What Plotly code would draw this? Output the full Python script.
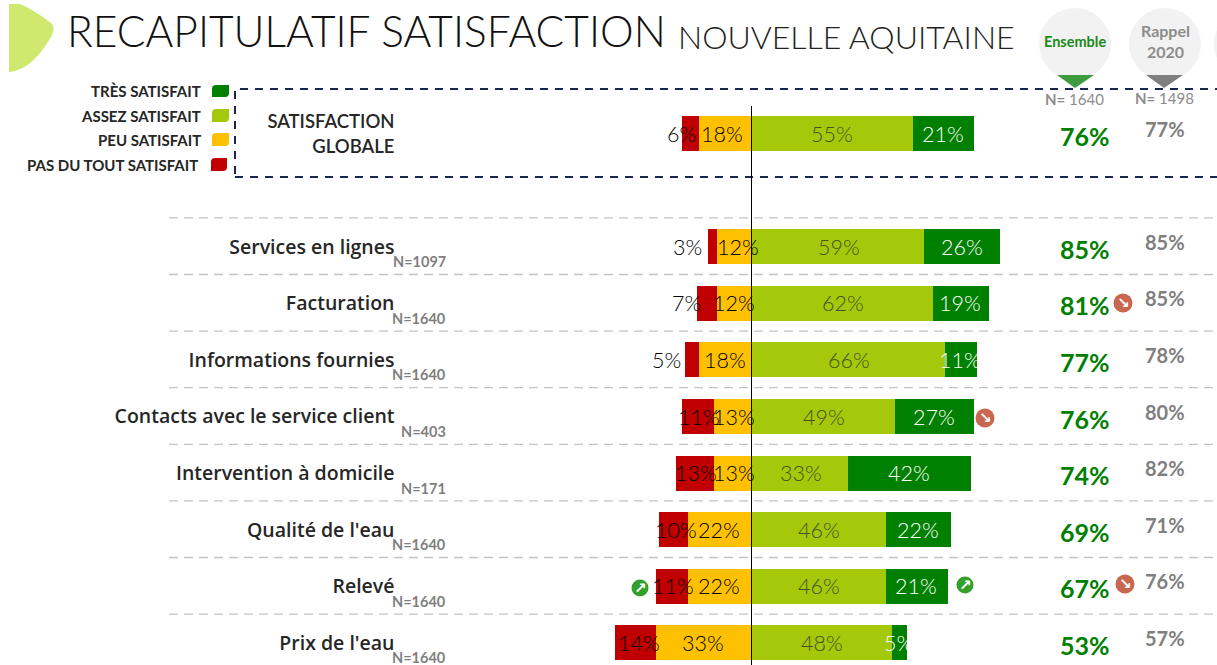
import plotly.graph_objects as go

W, H = 1217, 665
FONT = "Lato"
CAT_FONT = "Open Sans"
DARK = "#262626"

categories = ["SATISFACTION<br>GLOBALE", " ", "Services en lignes", "Facturation", "Informations fournies",
              "Contacts avec le service client", "Intervention à domicile", "Qualité de l'eau", "Relevé", "Prix de l'eau"]
rows = [c for c in categories if c != " "]
pas_du_tout = [6, 3, 7, 5, 11, 13, 10, 11, 14]
peu = [18, 12, 12, 18, 13, 13, 22, 22, 33]
assez = [55, 59, 62, 66, 49, 33, 46, 46, 48]
tres = [21, 26, 19, 11, 27, 42, 22, 21, 5]
ensemble = [76, 85, 81, 77, 76, 74, 69, 67, 53]
rappel = [77, 85, 85, 78, 80, 82, 71, 76, 57]
bases = [None, "N=1097", "N=1640", "N=1640", "N=403", "N=171", "N=1640", "N=1640", "N=1640"]
legend_names = ["TRÈS SATISFAIT", "ASSEZ SATISFAIT", "PEU SATISFAIT", "PAS DU TOUT SATISFAIT"]
COL = {"tres": "#008000", "assez": "#a3c90a", "peu": "#ffc000", "pas": "#c00000"}

# small horizontal nudges of the value labels, as in the original
shift_pas = [-9, -25, -20, -25, 2, 1, 3, 2, 4]
shift_peu = [-3, 4, 0, 0, 1, 1, 0, 0, 0]
shift_assez = [0, 1, 1, 1, 1, 1, 0, 0, 0]
shift_tres = [0, 0, 0, 0, 0, 0, 0, 0, 0]

PX_PER_PCT = 2.92
ZERO_PX = 751.5
LEFT_PX = 395.5
ROW_PX = 56.6
TOP_ROW_PX = 133.5


def px(x):
    return x / W


def py(y):
    return 1 - y / H


fig = go.Figure()
for name, vals, col, sign in [("Peu satisfait", peu, COL["peu"], -1), ("Pas du tout satisfait", pas_du_tout, COL["pas"], -1),
                              ("Assez satisfait", assez, COL["assez"], 1), ("Très satisfait", tres, COL["tres"], 1)]:
    fig.add_trace(go.Bar(name=name, y=rows, x=[sign * v for v in vals], orientation="h", width=0.62,
                         marker=dict(color=col, line=dict(width=0)), showlegend=False, hoverinfo="skip"))

ann = []


def label(x, y, text, size, color, shift=0, yshift=0, weight=300):
    ann.append(dict(x=x, y=y, xref="x", yref="y", text=text, showarrow=False, xshift=shift, yshift=yshift,
                    font=dict(family=FONT, size=size, color=color, weight=weight), xanchor="center", yanchor="middle"))


def free(x, y, text, size, color, anchor="center", weight=400, family=FONT):
    ann.append(dict(x=px(x), y=py(y), xref="paper", yref="paper", text=text, showarrow=False, xanchor=anchor,
                    yanchor="middle", font=dict(family=family, size=size, color=color, weight=weight)))


for i, r in enumerate(rows):
    label(-(peu[i] + pas_du_tout[i] / 2), r, f"{pas_du_tout[i]}%", 21.5, "#000000", shift_pas[i])
    label(-peu[i] / 2, r, f"{peu[i]}%", 21.5, "#000000", shift_peu[i])
    label(assez[i] / 2, r, f"{assez[i]}%", 21.5, "#46521f", shift_assez[i])
    label(assez[i] + tres[i] / 2, r, f"{tres[i]}%", 21.5, "#ffffff", shift_tres[i])
    ann.append(dict(x=px(1085), y=r, xref="paper", yref="y", text=f"{ensemble[i]}%", showarrow=False, yshift=-2,
                    xanchor="center", font=dict(family=FONT, size=25, color="#008000", weight=700)))
    ann.append(dict(x=px(1165), y=r, xref="paper", yref="y", text=f"{rappel[i]}%", showarrow=False, yshift=5,
                    xanchor="center", font=dict(family=FONT, size=20, color="#7f7f7f", weight=700)))
    if bases[i]:
        ann.append(dict(x=px(448), y=r, xref="paper", yref="y", text=bases[i], showarrow=False, xanchor="right",
                        yshift=-15, font=dict(family=FONT, size=14.5, color="#7f7f7f", weight=700)))

free(65, 31, "RECAPITULATIF SATISFACTION", 42.5, "#111111", "left", 300)
free(676, 36, "NOUVELLE AQUITAINE", 32, "#222222", "left", 300)
free(1075, 42, "Ensemble", 14.5, "#1a8a1a", weight=700)
free(1165, 41, "Rappel<br>2020", 16, "#8c8c8c", weight=700)
free(1074, 99, "<b>N=</b> 1640", 15, "#8c8c8c")
free(1164.5, 98, "<b>N=</b> 1498", 15, "#8c8c8c")

for n, y, x in zip(legend_names, [91, 116, 140, 165], [203, 203, 203, 200]):
    free(x, y, n, 15, DARK, "right", 700)

shapes = []


def paper_shape(**k):
    shapes.append(dict(xref="paper", yref="paper", **k))


def circle(cx, cy, r, color):
    paper_shape(type="circle", x0=px(cx - r), x1=px(cx + r), y0=py(cy + r), y1=py(cy - r), fillcolor=color,
                line=dict(width=0), layer="below")


def path(points, color, close=True):
    d = "M " + " L ".join(f"{px(a)},{py(b)}" for a, b in points) + (" Z" if close else "")
    paper_shape(type="path", path=d, fillcolor=color, line=dict(width=0), layer="below")


# logo
paper_shape(type="path", layer="below", fillcolor="#cfe96f", line=dict(width=0),
            path=f"M {px(9)},{py(4)} L {px(20)},{py(4)} C {px(30)},{py(8)} {px(45)},{py(18)} {px(52)},{py(24)} "
                 f"C {px(55)},{py(28)} {px(53)},{py(33)} {px(51)},{py(37)} C {px(40)},{py(55)} {px(28)},{py(70)} {px(9)},{py(72)} Z")

# header circles
circle(1075, 44, 36, "#f2f2f2")
circle(1165, 44, 36, "#f2f2f2")
circle(1250, 44, 36, "#f2f2f2")
path([(1057, 75), (1094, 75), (1075, 88)], "#3f9b3f")
path([(1146, 75), (1183, 75), (1164, 88)], "#7f7f7f")

# legend keys (leaf shaped)
for (x0, y0, x1, y1), c in zip([(212, 85, 229, 97), (212, 109, 229, 122), (212, 133, 229, 146), (211, 158, 227, 171)],
                               [COL["tres"], COL["assez"], COL["peu"], COL["pas"]]):
    paper_shape(type="path", layer="below", fillcolor=c, line=dict(width=0),
                path=f"M {px(x0 + 4)},{py(y0)} L {px(x1)},{py(y0)} L {px(x1)},{py(y1 - 4)} "
                     f"Q {px(x1)},{py(y1)} {px(x1 - 4)},{py(y1)} L {px(x0)},{py(y1)} L {px(x0)},{py(y0 + 4)} "
                     f"Q {px(x0)},{py(y0)} {px(x0 + 4)},{py(y0)} Z")

# dashed frame of the global row
paper_shape(type="rect", x0=px(235), x1=px(1240), y0=py(177), y1=py(89), line=dict(color="#1a2550", width=2, dash="8px,7px"))

# row separators
for k in range(8):
    yy = 133 + ROW_PX * (k + 1.5)
    paper_shape(type="line", x0=px(169), x1=1, y0=py(yy), y1=py(yy), line=dict(color="#c4c4c4", width=1.3, dash="9px,6px"), layer="below")

# zero line
shapes.append(dict(type="line", xref="x", yref="paper", x0=0, x1=0, y0=0, y1=py(106), line=dict(color="#000000", width=1)))

# trend arrows
for cx, cy, col, glyph, r in [(1123, 303, "#c9664f", "↘", 9.5), (985, 418, "#c9664f", "↘", 9.5), (1125, 584, "#c9664f", "↘", 9.5),
                              (640, 588, "#34a02c", "↗", 8.5), (965, 585, "#34a02c", "↗", 8.5)]:
    paper_shape(type="circle", x0=px(cx - r), x1=px(cx + r), y0=py(cy + r), y1=py(cy - r), fillcolor=col, line=dict(width=0))
    free(cx, cy, glyph, 15, "#ffffff", weight=700, family="DejaVu Sans")

x_lo = (LEFT_PX - ZERO_PX) / PX_PER_PCT
x_hi = (W - ZERO_PX) / PX_PER_PCT
y_bottom = (H - TOP_ROW_PX) / ROW_PX
y_top = -TOP_ROW_PX / ROW_PX

ticktext = [f'<span style="font-family:{FONT};font-size:18.5px">{c}</span>' if i == 0 else c
            for i, c in enumerate(categories)]

fig.update_layout(
    width=W, height=H, margin=dict(l=0, r=0, t=0, b=0), barmode="relative", bargap=0,
    paper_bgcolor="white", plot_bgcolor="rgba(0,0,0,0)", font=dict(family=FONT), autosize=False,
    xaxis=dict(domain=[LEFT_PX / W, 1], range=[x_lo, x_hi], showgrid=False, zeroline=False, showticklabels=False, ticks=""),
    yaxis=dict(type="category", categoryorder="array", categoryarray=categories, range=[y_bottom, y_top],
               tickmode="array", tickvals=categories, ticktext=ticktext,
               showgrid=False, zeroline=False, showline=False, ticks="", ticklabelstandoff=0, automargin=False,
               tickfont=dict(family=CAT_FONT, size=19.5, color=DARK, weight=600)),
    annotations=ann, shapes=shapes,
)
fig.write_html("out.html", post_script="document.body.style.margin='0';document.body.style.overflow='hidden';",
               config={"displayModeBar": False, "responsive": False})
